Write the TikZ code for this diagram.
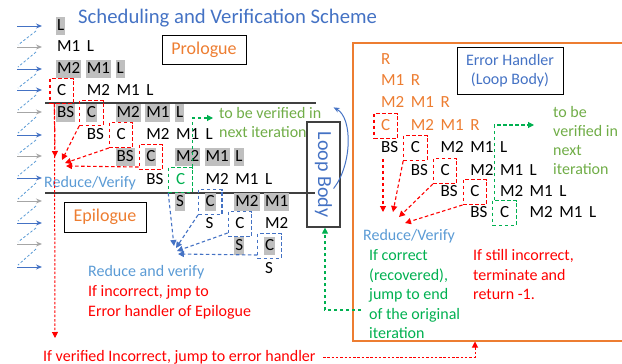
\documentclass[tikz,border=0pt]{standalone}
\usepackage{fontspec}
\setmainfont{Carlito}
\usepackage{graphicx}
\usetikzlibrary{fit,calc,arrows.meta}
\definecolor{tblue}{HTML}{4472C4}
\definecolor{lblue}{HTML}{5B9BD5}
\definecolor{tgray}{HTML}{A6A6A6}
\definecolor{hgray}{HTML}{BFBFBF}
\definecolor{torange}{HTML}{ED7D31}
\definecolor{tgreen}{HTML}{70AD47}
\definecolor{dgreen}{HTML}{00B050}
\definecolor{tred}{HTML}{FF0000}
\definecolor{lineg}{HTML}{404040}
\newcommand\tokfont{\fontsize{17}{20}\selectfont}
\newcommand\txtfont{\fontsize{16}{19}\selectfont}
\begin{document}
\begin{tikzpicture}[x=1pt,y=-1pt,
  tok/.style={anchor=west, inner xsep=1pt, inner ysep=1pt, text height=12pt, text depth=3.5pt, font=\tokfont},
  hl/.style={fill=hgray},
  pl/.style={},
  ot/.style={text=torange},
  gt/.style={text=dgreen},
  dbox/.style={line width=1.1pt, dash pattern=on 3.5pt off 2.5pt, inner xsep=6pt, inner ysep=3.5pt},
  rbox/.style={dbox, draw=tred},
  gbox/.style={dbox, draw=dgreen},
  bbox/.style={dbox, draw=tblue},
  tip/.style={-{Triangle[length=6pt,width=6pt]}},
  rarr/.style={tip, tred, line width=1.1pt, dash pattern=on 3.5pt off 2.5pt},
  rdot/.style={tip, tred, line width=1pt, dash pattern=on 2.5pt off 1.8pt},
  barr/.style={tip, tblue, line width=1.1pt, dash pattern=on 3.5pt off 2.5pt},
  garr/.style={tip, dgreen, line width=1.1pt, dash pattern=on 3.5pt off 2.5pt},
  txt/.style={anchor=base west, inner sep=0pt, font=\txtfont},
  labbox/.style={draw=black, line width=1pt, inner sep=0pt},
  sep/.style={draw=lineg, line width=1.4pt}
]
\useasboundingbox (0,0) rectangle (622,364);

% title
\node[anchor=base west, inner sep=0pt, font=\fontsize{20.7}{23}\selectfont, text=tblue] (title) at (78,23.5) {Scheduling and Verification Scheme};

% left arrows column
\foreach \y/\c [count=\i] in {26/tblue,47/tgray,69/tblue,90/tblue,112/tgray,135/tblue,156/tgray,178/tblue,201/tgray,223/tblue,244/tgray,267/tblue}{
  \coordinate (as\i) at (17,\y);
  \coordinate (ae\i) at (42,\y);
  \draw[\c, line width=1pt, -{Stealth[length=6pt,width=5pt]}] (as\i) -- (ae\i);
}
\foreach \i/\j in {1/2,2/3,3/4,4/5,5/6,6/7,7/8,8/9,9/10,10/11,11/12}{
  \draw[lblue, line width=0.8pt, dash pattern=on 2.5pt off 2pt] ($(ae\i)+(-6,5)$) -- ($(as\j)+(1,-2)$);
}

% separators
\coordinate (s1a) at (45,103); \coordinate (s1b) at (316,103);
\coordinate (s2a) at (45,193); \coordinate (s2b) at (315,193);
\draw[sep] (s1a) -- (s1b);
\draw[sep] (s2a) -- (s2b);

% error handler frame
\coordinate (ehtl) at (353,43);
\coordinate (ehbr) at (626,341);
\draw[torange, line width=1.3pt] (ehtl) rectangle (ehbr);

% left tokens
\foreach \n/\x/\y/\t/\s in {
 a0/0/26/L/hl,
 b0/0/47/M1/pl, b1/1/47/L/pl,
 c0/0/69/M2/hl, c1/1/69/M1/hl, c2/2/69/L/hl,
 d0/0/91/C/pl, d1/1/91/M2/pl, d2/2/91/M1/pl, d3/3/91/L/pl,
 e0/0/113/BS/hl, e1/1/113/C/hl, e2/2/113/M2/hl, e3/3/113/M1/hl, e4/4/113/L/hl,
 f1/1/135/BS/pl, f2/2/135/C/pl, f3/3/135/M2/pl, f4/4/135/M1/pl, f5/5/135/L/pl,
 g2/2/157/BS/hl, g3/3/157/C/hl, g4/4/157/M2/hl, g5/5/157/M1/hl, g6/6/157/L/hl,
 h3/3/180/BS/pl, h4/4/180/C/gt, h5/5/180/M2/pl, h6/6/180/M1/pl, h7/7/180/L/pl,
 i4/4/202/S/hl, i5/5/202/C/hl, i6/6/202/M2/hl, i7/7/202/M1/hl,
 j5/5/224/S/pl, j6/6/224/C/pl, j7/7/224/M2/pl,
 k6/6/246/S/hl, k7/7/246/C/hl,
 l7/7/269/S/pl}{
  \node[tok,\s] (l\n) at ({56+29.7*\x},\y) {\t};
}

% right tokens
\foreach \n/\x/\y/\t/\s in {
 a0/0/60/R/ot,
 b0/0/81/M1/ot, b1/1/81/R/ot,
 c0/0/103/M2/ot, c1/1/103/M1/ot, c2/2/103/R/ot,
 d0/0/126/C/ot, d1/1/126/M2/ot, d2/2/126/M1/ot, d3/3/126/R/ot,
 e0/0/148/BS/pl, e1/1/148/C/pl, e2/2/148/M2/pl, e3/3/148/M1/pl, e4/4/148/L/pl,
 f1/1/171/BS/pl, f2/2/171/C/pl, f3/3/171/M2/pl, f4/4/171/M1/pl, f5/5/171/L/pl,
 g2/2/192/BS/pl, g3/3/192/C/pl, g4/4/192/M2/pl, g5/5/192/M1/pl, g6/6/192/L/pl,
 h3/3/213/BS/pl, h4/4/213/C/pl, h5/5/213/M2/pl, h6/6/213/M1/pl, h7/7/213/L/pl}{
  \node[tok,\s] (r\n) at ({380+29.7*\x},\y) {\t};
}

% dashed boxes
\node[rbox, fit=(ld0)] (bld0) {};
\node[rbox, fit=(le1)] (ble1) {};
\node[rbox, fit=(lf2)] (blf2) {};
\node[rbox, fit=(lg3)] (blg3) {};
\node[gbox, fit=(lh4)] (blh4) {};
\node[bbox, fit=(li5)] (bli5) {};
\node[bbox, fit=(lj6)] (blj6) {};
\node[bbox, fit=(lk7)] (blk7) {};
\node[rbox, fit=(rd0)] (brd0) {};
\node[rbox, fit=(re1)] (bre1) {};
\node[rbox, fit=(rf2)] (brf2) {};
\node[rbox, fit=(rg3)] (brg3) {};
\node[gbox, fit=(rh4)] (brh4) {};

% label boxes
\node[labbox, minimum width=84pt, minimum height=29pt, text=torange, font=\fontsize{18}{20}\selectfont] (pro) at (204,49.5) {Prologue};
\node[labbox, minimum width=82pt, minimum height=30pt, text=torange, font=\fontsize{18}{20}\selectfont] (epi) at (105,217) {Epilogue};
\node[draw=lineg, line width=1.2pt, inner sep=0pt, minimum width=33pt, minimum height=105pt, text=tblue, font=\fontsize{20}{22}\selectfont] (lb) at (323.5,174.5) {\rotatebox{-90}{Loop Body}};
\node[labbox, minimum width=106pt, minimum height=47pt, align=center, text=tblue, font=\fontsize{16}{19}\selectfont] (eh) at (510,70.5) {Error Handler\\(Loop Body)};

% left texts
\node[txt, text=tgreen] (tbv1) at (219,118.5) {to be verified in};
\node[txt, text=tgreen] (tbv2) at (219,137) {next iteration};
\node[txt, text=lblue] (rv1) at (44,187) {Reduce/Verify};
\node[txt, text=lblue] (rav) at (88,276) {Reduce and verify};
\node[txt, text=tred] (inc1) at (88,296.3) {If incorrect, jmp to};
\node[txt, text=tred] (inc2) at (88,316.3) {Error handler of Epilogue};
\node[txt, text=tred] (vinc) at (43,361) {If verified Incorrect, jump to error handler};

% right texts
\node[txt, text=tgreen] (rtb1) at (553,117) {to be};
\node[txt, text=tgreen] (rtb2) at (553,136) {verified in};
\node[txt, text=tgreen] (rtb3) at (553,155) {next};
\node[txt, text=tgreen] (rtb4) at (553,174) {iteration};
\node[txt, text=lblue] (rv2) at (363,240.5) {Reduce/Verify};
\node[txt, text=dgreen] (ok1) at (369,260.5) {If correct};
\node[txt, text=dgreen] (ok2) at (369,280) {(recovered),};
\node[txt, text=dgreen] (ok3) at (369,299.5) {jump to end};
\node[txt, text=dgreen] (ok4) at (369,319) {of the original};
\node[txt, text=dgreen] (ok5) at (369,338.5) {iteration};
\node[txt, text=tred] (bad1) at (473,260.5) {If still incorrect,};
\node[txt, text=tred] (bad2) at (473,280) {terminate and};
\node[txt, text=tred] (bad3) at (473,299.5) {return -1.};

% left red reduce arrows
\coordinate (lt1) at (55,157);
\coordinate (lt2) at (62,160);
\coordinate (lt3) at (65,163);
\coordinate (lt4) at (66,166);
\coordinate (lend) at (55,338);
\draw[rdot] ($(bld0.south west)+(5,0)$) -- (lend);
\draw[rarr] ($(bld0.south west)+(5,0)$) -- (lt1);
\draw[rarr] (ble1.south west) -- (lt2);
\draw[rarr] (blf2.south west) -- (lt3);
\draw[rarr] ($(blg3.south west)+(0,-3)$) -- (lt4);

% left blue reduce arrows
\coordinate (bt1) at (174,246);
\coordinate (bt2) at (176,248);
\coordinate (bt3) at (177,251);
\coordinate (bt4) at (178,254);
\draw[barr] (blh4.south west) -- (bt1);
\draw[barr] (bli5.south west) -- (bt2);
\draw[barr] ($(blj6.south west)+(0,-4)$) -- (bt3);
\draw[barr] ($(blk7.south west)+(0,-4)$) -- (bt4);

% right red reduce arrows
\coordinate (rt1) at (383,212);
\coordinate (rt2) at (393,212);
\coordinate (rt3) at (399,217);
\coordinate (rt4) at (405,223);
\draw[rarr] ($(re0.south west)+(3,2)$) -- (rt1);
\draw[rarr] (bre1.south west) -- (rt2);
\draw[rarr] (brf2.south west) -- (rt3);
\draw[rarr] (brg3.south west) -- (rt4);

% green "to be verified" arrows
\coordinate (lg) at (213,118);
\coordinate (rg) at (534,125);
\draw[garr] (blh4.north east) |- (lg);
\draw[garr] ($(brh4.north west)+(2,0)$) |- (rg);

% green jump back to loop body
\coordinate (gs) at (361,310);
\draw[garr] (gs) -| ($(lb.south)+(1.5,0)$);

% red jump to error handler
\coordinate (rs) at (323,357);
\coordinate (rtgt) at (475,341.5);
\draw[rdot] (rs) -| (rtgt);

% loop body curve
\draw[tblue, line width=1pt, -{Stealth[length=6pt,width=5pt]}] ($(lb.east)+(-7,14)$) .. controls (352,165) and (353,118) .. ($(lb.north east)+(-7,-14)$);
\end{tikzpicture}
\end{document}
